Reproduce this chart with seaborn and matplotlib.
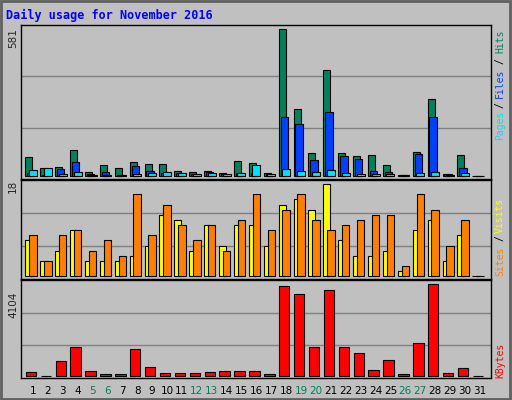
import matplotlib
matplotlib.use("Agg")
import matplotlib.pyplot as plt
import seaborn as sns
import numpy as np

sns.set_style("white")
plt.rcParams['font.family'] = ['DejaVu Sans Mono', 'DejaVu Sans']

# Daily values (November 2016)
days = list(range(1, 32))
hits = [76, 32, 37, 103, 16, 43, 32, 55, 47, 47, 20, 16, 20, 12, 59, 51, 12,
        581, 265, 91, 419, 91, 79, 83, 43, 3, 95, 304, 8, 83, 0]
files = [12, 4, 28, 55, 9, 16, 4, 40, 20, 12, 12, 8, 16, 8, 12, 12, 8,
         233, 205, 63, 253, 79, 67, 20, 16, 2, 87, 233, 8, 32, 0]
pages = [24, 32, 9, 16, 4, 4, 4, 9, 12, 16, 12, 8, 12, 8, 12, 43, 8,
         28, 20, 16, 24, 12, 8, 8, 8, 2, 12, 16, 4, 12, 0]
visits = [7, 3, 5, 9, 3, 3, 3, 4, 6, 12, 11, 5, 10, 6, 10, 10, 6,
          14, 15, 13, 18, 7, 4, 4, 5, 1, 9, 11, 3, 8, 0]
sites = [8, 3, 8, 9, 5, 7, 4, 16, 8, 14, 10, 7, 10, 5, 11, 16, 9,
         13, 16, 11, 9, 10, 11, 12, 12, 2, 16, 13, 6, 11, 0]
kbytes = [150, 0, 644, 1273, 195, 60, 60, 1183, 374, 105, 105, 105, 150, 195, 195, 195, 60,
          4044, 3655, 1273, 3834, 1273, 1003, 240, 689, 60, 1453, 4104, 105, 330, 0]
weekends = [5, 6, 12, 13, 19, 20, 26, 27]

bg = "#c0c0c0"
c_hits, c_files, c_pages = "#00805c", "#0040ff", "#00e0ff"
c_visits, c_sites, c_kb = "#ffff00", "#ff8000", "#ff0000"

W, H = 512, 400
fig = plt.figure(figsize=(W / 100, H / 100), dpi=100, facecolor=bg)

def panel(top, bottom):
    ax = fig.add_axes([21 / W, 1 - bottom / H, 470 / W, (bottom - top) / H])
    ax.set_facecolor(bg)
    ax.set_xlim(0.2, 31.75)
    ax.set_xticks([])
    ax.set_yticks([])
    for s in ax.spines.values():
        s.set_color("black")
        s.set_linewidth(1)
    for f in (1 / 3, 2 / 3):
        ax.plot([0, 1], [f, f], transform=ax.transAxes, color="#808080", lw=1, zorder=0)
    return ax

x = np.array(days, dtype=float)
kw = dict(edgecolor="black", linewidth=0.8, zorder=3)

ax1 = panel(25, 179)
ax1.bar(x - 0.27, hits, width=0.47, color=c_hits, **kw)
ax1.bar(x - 0.13, files, width=0.5, color=c_files, **kw)
ax1.bar(x, pages, width=0.54, color=c_pages, **kw)
ax1.set_ylim(-12, 595)

ax2 = panel(180, 279)
ax2.bar(x - 0.27, visits, width=0.47, color=c_visits, **kw)
ax2.bar(x, sites, width=0.5, color=c_sites, **kw)
ax2.set_ylim(-0.52, 18.8)

ax3 = panel(280, 378)
ax3.bar(x - 0.13, kbytes, width=0.7, color=c_kb, **kw)
ax3.set_ylim(-101, 4293)

# day labels
for d in days:
    ax3.text(d, -0.08, str(d), transform=ax3.get_xaxis_transform(), ha="center", va="top",
             fontsize=7.5, fontfamily="DejaVu Sans",
             color=c_hits if d in weekends else "black")

# title
fig.text(6 / W, 1 - 15 / H, "Daily usage for November 2016", color="#0000ff",
         fontsize=8.5, fontweight="bold", va="center")

# left max labels
for y, t in [(38, "581"), (186, "18"), (305, "4104")]:
    fig.text(13 / W, 1 - y / H, t, rotation=90, ha="center", va="center",
             fontsize=7.5, fontfamily="DejaVu Sans")

# right legends, stacked vertically
def vlabel(y, t, c):
    fig.text(500 / W, 1 - y / H, t, rotation=90, ha="center", va="center", color=c, fontsize=7)

vlabel(41, "Hits", c_hits)
vlabel(61, "/", "black")
vlabel(83, "Files", c_files)
vlabel(105, "/", "black")
vlabel(125, "Pages", c_pages)
vlabel(215, "Visits", c_visits)
vlabel(238, "/", "black")
vlabel(261, "Sites", c_sites)
vlabel(360, "KBytes", c_kb)

# outer frame
fig.patches.append(plt.Rectangle((0.002, 0.003), 0.995, 0.994, transform=fig.transFigure,
                                 fill=False, edgecolor="#606060", lw=2))

fig.savefig("out.png", dpi=100, facecolor=bg)
